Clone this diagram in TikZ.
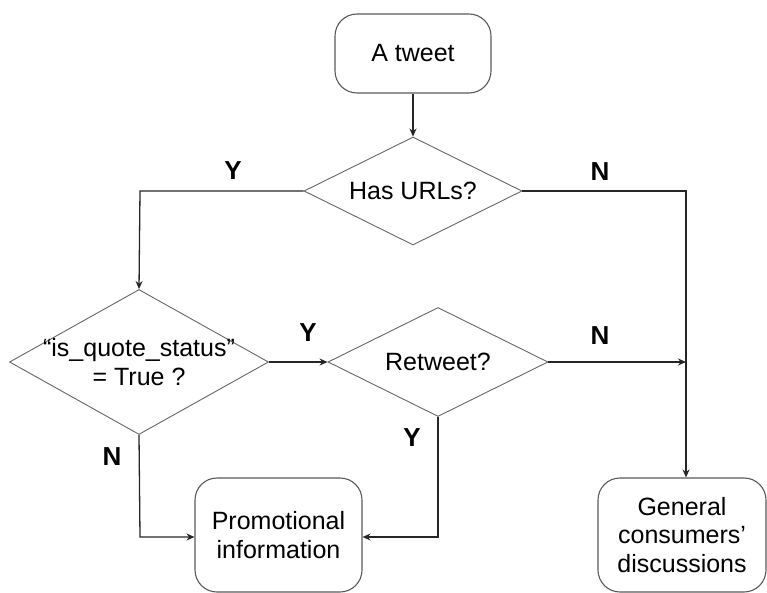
\documentclass[tikz,border=0pt]{standalone}
\usepackage{fontspec}
\setmainfont{Liberation Sans}
\usetikzlibrary{shapes.geometric,arrows.meta}
\begin{document}
\begin{tikzpicture}[x=1pt,y=-1pt,
  txt/.style={font=\fontsize{25}{28.5}\selectfont},
  box/.style={txt,draw=black!65,line width=1.1pt,rounded corners=22pt,inner sep=0pt,align=center},
  dia/.style={draw=black!60,line width=0.9pt,diamond,inner sep=0pt},
  lab/.style={font=\fontsize{26}{28}\selectfont\bfseries},
  arr/.style={draw=black!85,line width=1.3pt,-{Stealth[length=8pt,width=7pt]}}]
\useasboundingbox (0,0) rectangle (767,593);
\node[box,minimum width=156pt,minimum height=79pt] (tw) at (413,53.5) {A tweet};
\node[dia,minimum width=218pt,minimum height=108pt,label={[txt]center:Has URLs?}] (has) at (413,191) {};
\node[dia,minimum width=259pt,minimum height=145pt,label={[txt,align=center]center:“is\_quote\_status”\\= True ?}] (q) at (139,362) {};
\node[dia,minimum width=220pt,minimum height=109pt,label={[txt]center:Retweet?}] (r) at (438,362) {};
\node[box,minimum width=167pt,minimum height=114pt] (pr) at (278.5,535) {Promotional\\information};
\node[box,minimum width=168pt,minimum height=114pt] (gen) at (682,535) {General\\consumers’\\discussions};
\coordinate (j1) at (686,191);
\coordinate (j2) at (686,362);
\coordinate (c1) at (140,191);
\coordinate (c2) at (140,537);
\coordinate (c3) at (438,537);
\draw[arr] (tw.south) -- (has.north);
\draw[arr] (has.west) -- (c1) -- (q.north);
\draw[arr] (q.east) -- (r.west);
\draw[arr] (r.east) -- (j2);
\draw[arr] (has.east) -- (j1) -- (gen.north -| j1);
\draw[arr] (q.south) -- (c2) -- (c2 -| pr.west);
\draw[arr] (r.south) -- (c3) -- (c3 -| pr.east);
\node[lab] (y1) at (233,171) {Y};
\node[lab] (n1) at (600,172) {N};
\node[lab] (y2) at (308,333) {Y};
\node[lab] (n2) at (600,336) {N};
\node[lab] (n3) at (112,457) {N};
\node[lab] (y3) at (412,438) {Y};
\end{tikzpicture}
\end{document}
